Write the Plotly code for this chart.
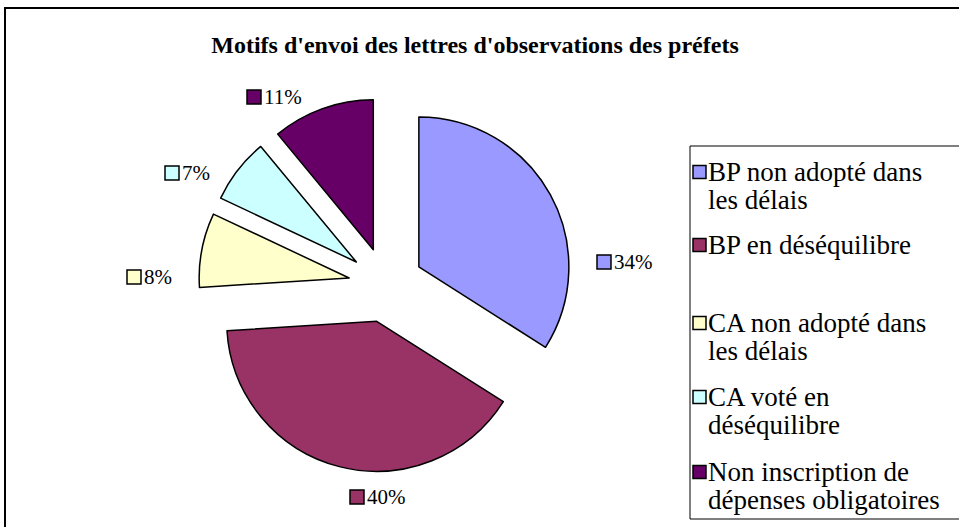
import plotly.graph_objects as go

# ---------------- data ----------------
title_text = "Motifs d'envoi des lettres d'observations des préfets"
categories = [
    "BP non adopté dans les délais",
    "BP en déséquilibre",
    "CA non adopté dans les délais",
    "CA voté en déséquilibre",
    "Non inscription de dépenses obligatoires",
]
legend_lines = [
    ["BP non adopté dans", "les délais"],
    ["BP en déséquilibre"],
    ["CA non adopté dans", "les délais"],
    ["CA voté en", "déséquilibre"],
    ["Non inscription de", "dépenses obligatoires"],
]
values = [34, 40, 8, 7, 11]
colors = ["#9999FF", "#993366", "#FFFFCC", "#CCFFFF", "#660066"]

# ---------------- layout helpers ----------------
W, H = 959, 527
FONT = "Liberation Serif"


def px(x):
    return x / W


def py(y):
    return 1 - y / H


# pie geometry (pixels): centre and radius, equal explosion for all slices
cx, cy, r, pull = 386, 285, 150, 0.25
half = r * (1 + pull)

fig = go.Figure()
fig.add_trace(go.Pie(
    labels=categories,
    values=values,
    sort=False,
    direction="clockwise",
    rotation=0,
    pull=[pull] * len(values),
    marker=dict(colors=colors, line=dict(color="black", width=1.5)),
    textinfo="none",
    hoverinfo="label+percent",
    showlegend=False,
    domain=dict(x=[px(cx - half), px(cx + half)], y=[py(cy + half), py(cy - half)]),
))

shapes = []
annotations = []

# outer frame
shapes.append(dict(type="rect", xref="paper", yref="paper",
                   x0=px(5), x1=px(W + 10), y0=py(H + 10), y1=py(8),
                   line=dict(color="black", width=2), fillcolor="rgba(0,0,0,0)"))

# percentage labels (square + text) placed around the pie
label_pos = [(597, 262), (350, 497), (127, 277), (165, 173), (247, 97)]
SQ = 14
total = sum(values)
for (lx, ly), v, c in zip(label_pos, values, colors):
    shapes.append(dict(type="rect", xref="paper", yref="paper",
                       x0=px(lx), x1=px(lx + SQ), y0=py(ly + SQ / 2), y1=py(ly - SQ / 2),
                       fillcolor=c, line=dict(color="black", width=1.5)))
    annotations.append(dict(xref="paper", yref="paper", x=px(lx + SQ + 1), y=py(ly),
                            xanchor="left", yanchor="middle", showarrow=False,
                            text=f"{round(100 * v / total)}%",
                            font=dict(family=FONT, size=21, color="black")))

# legend box
lg_x0, lg_y0, lg_y1 = 690, 146, 519
shapes.append(dict(type="rect", xref="paper", yref="paper",
                   x0=px(lg_x0), x1=px(W + 10), y0=py(lg_y1), y1=py(lg_y0),
                   line=dict(color="black", width=1), fillcolor="rgba(0,0,0,0)"))
row_y = [172, 245, 323, 397, 472]
line_gap = 28
LSQ = 13
for lines, c, yc in zip(legend_lines, colors, row_y):
    shapes.append(dict(type="rect", xref="paper", yref="paper",
                       x0=px(693), x1=px(693 + LSQ), y0=py(yc + LSQ / 2), y1=py(yc - LSQ / 2),
                       fillcolor=c, line=dict(color="black", width=1.5)))
    for k, line in enumerate(lines):
        annotations.append(dict(xref="paper", yref="paper", x=px(706),
                                y=py(yc + k * line_gap),
                                xanchor="left", yanchor="middle", showarrow=False,
                                text=line, font=dict(family=FONT, size=27, color="black")))

fig.update_layout(
    width=W, height=H,
    margin=dict(l=0, r=0, t=0, b=0),
    paper_bgcolor="white",
    plot_bgcolor="white",
    title=dict(text=f"<b>{title_text}</b>", x=px(475), xanchor="center",
               y=py(45), yanchor="middle",
               font=dict(family=FONT, size=24, color="black")),
    shapes=shapes,
    annotations=annotations,
)

fig.write_html("out.html", config={"displayModeBar": False},
               post_script="document.body.style.margin='0';")
